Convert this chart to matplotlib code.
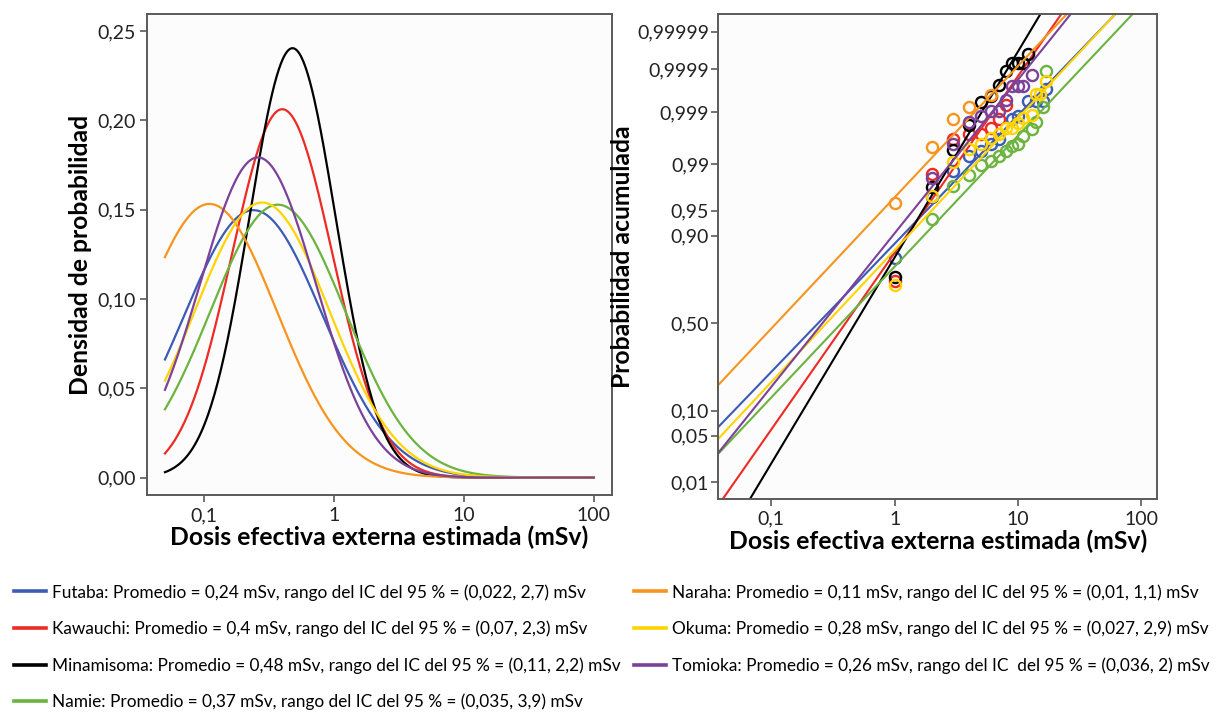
import matplotlib
matplotlib.use('Agg')
import matplotlib.pyplot as plt
import numpy as np
from statistics import NormalDist
from matplotlib.lines import Line2D

# fitted lognormal parameters (from the legend)
towns = ['Futaba', 'Kawauchi', 'Minamisoma', 'Namie', 'Naraha', 'Okuma', 'Tomioka']
colors = ['#3b5bb4', '#ee2a24', '#000000', '#6cb33f', '#f7941d', '#ffd400', '#7c4199']
medians = [0.24, 0.4, 0.48, 0.37, 0.11, 0.28, 0.26]
ci_low = [0.022, 0.07, 0.11, 0.035, 0.01, 0.027, 0.036]
ci_high = [2.7, 2.3, 2.2, 3.9, 1.1, 2.9, 2.0]
legend_labels = [
    'Futaba: Promedio = 0,24 mSv, rango del IC del 95 % = (0,022, 2,7) mSv',
    'Kawauchi: Promedio = 0,4 mSv, rango del IC del 95 % = (0,07, 2,3) mSv',
    'Minamisoma: Promedio = 0,48 mSv, rango del IC del 95 % = (0,11, 2,2) mSv',
    'Namie: Promedio = 0,37 mSv, rango del IC del 95 % = (0,035, 3,9) mSv',
    'Naraha: Promedio = 0,11 mSv, rango del IC del 95 % = (0,01, 1,1) mSv',
    'Okuma: Promedio = 0,28 mSv, rango del IC del 95 % = (0,027, 2,9) mSv',
    'Tomioka: Promedio = 0,26 mSv, rango del IC  del 95 % = (0,036, 2) mSv',
]

futaba_dose = [1, 2, 3, 4, 5, 6, 7, 9, 10, 12, 14, 16, 17]
futaba_prob = [0.8315, 0.9678, 0.9868, 0.9927, 0.9941, 0.9956, 0.9964, 0.9986, 0.99878,
               0.99942, 0.99942, 0.99942, 0.99970]
kawauchi_dose = [1, 2, 3, 4, 5, 6, 7, 8]
kawauchi_prob = [0.7324, 0.9857, 0.9964, 0.9972, 0.9972, 0.9979, 0.9986, 0.99929]
minamisoma_dose = [1, 2, 3, 4, 5, 6, 7, 8, 9, 10, 11, 12]
minamisoma_prob = [0.7517, 0.9767, 0.9943, 0.9981, 0.99940, 0.99955, 0.99976, 0.99989,
                   0.99993, 0.99993, 0.99993, 0.99996]
namie_dose = [2, 3, 4, 5, 6, 7, 8, 9, 10, 11, 13, 14, 16, 17]
namie_prob = [0.9370, 0.9778, 0.9850, 0.9896, 0.9911, 0.9929, 0.9940, 0.9953, 0.9956,
              0.9969, 0.9978, 0.9984, 0.99921, 0.99989]
naraha_dose = [1, 2, 3, 4, 6]
naraha_prob = [0.9611, 0.9951, 0.9986, 0.99921, 0.99957]
okuma_dose = [1, 2, 3, 4, 5, 6, 7, 8, 9, 10, 11, 13, 14, 15, 17]
okuma_prob = [0.7123, 0.9686, 0.9909, 0.9945, 0.9956, 0.9966, 0.9972, 0.9979, 0.9979,
              0.9983, 0.99865, 0.99886, 0.99960, 0.99960, 0.99980]
tomioka_dose = [2, 3, 4, 5, 6, 7, 8, 9, 10, 11, 13]
tomioka_prob = [0.9830, 0.9957, 0.9984, 0.99878, 0.99906, 0.99906, 0.99946, 0.99974,
                0.99974, 0.99974, 0.99986]

obs_dose = [futaba_dose, kawauchi_dose, minamisoma_dose, namie_dose, naraha_dose, okuma_dose, tomioka_dose]
obs_prob = [futaba_prob, kawauchi_prob, minamisoma_prob, namie_prob, naraha_prob, okuma_prob, tomioka_prob]

prob_ticks = [0.01, 0.05, 0.10, 0.50, 0.90, 0.95, 0.99, 0.999, 0.9999, 0.99999]
prob_labels = ['0,01', '0,05', '0,10', '0,50', '0,90', '0,95', '0,99', '0,999', '0,9999', '0,99999']
dens_ticks = [0.0, 0.05, 0.10, 0.15, 0.20, 0.25]
dens_labels = ['0,00', '0,05', '0,10', '0,15', '0,20', '0,25']
dose_ticks = [0.1, 1, 10, 100]
dose_labels = ['0,1', '1', '10', '100']

plt.rcParams['font.family'] = ['Lato', 'DejaVu Sans']
nd = NormalDist()
frame_col = '#5a5a5a'

fig = plt.figure(figsize=(12.21, 7.13), dpi=100)
ax1 = fig.add_axes([0.1207, 0.3052, 0.3802, 0.6748])
ax2 = fig.add_axes([0.5882, 0.3001, 0.3597, 0.6799])

for ax in (ax1, ax2):
    ax.set_facecolor('#fcfcfc')
    for s in ax.spines.values():
        s.set_color(frame_col)
        s.set_linewidth(1.4)
    ax.tick_params(direction='out', length=5, width=1.2, color=frame_col,
                   labelsize=14, labelcolor='#222222')
    ax.set_xscale('log')
    ax.set_xticks(dose_ticks)
    ax.set_xticklabels(dose_labels)
    ax.minorticks_off()
    ax.set_xlabel('Dosis efectiva externa estimada (mSv)', fontsize=17.8, fontweight='bold', labelpad=1)

# left: fitted densities
x = np.logspace(np.log10(0.05), 2, 400)
for i in range(len(towns)):
    mu = np.log10(medians[i])
    sig = np.log10(ci_high[i] / ci_low[i]) / (2 * 1.96)
    dens = 0.2 * np.exp(-0.5 * ((np.log10(x) - mu) / sig) ** 2) / (sig * np.sqrt(2 * np.pi))
    ax1.plot(x, dens, color=colors[i], lw=1.6)
ax1.set_xlim(0.0366, 137.4)
ax1.set_ylim(-0.00997, 0.2594)
ax1.set_yticks(dens_ticks)
ax1.set_yticklabels(dens_labels)
ax1.set_ylabel('Densidad de probabilidad', fontsize=17.8, fontweight='bold', labelpad=4)

# right: probability plot
xl = np.logspace(-1.6, 2.3, 50)
for i in range(len(towns)):
    mu = np.log10(medians[i])
    sig = np.log10(ci_high[i] / ci_low[i]) / (2 * 1.96)
    ax2.plot(xl, (np.log10(xl) - mu) / sig, color=colors[i], lw=1.5)
    zs = [nd.inv_cdf(p) for p in obs_prob[i]]
    ax2.plot(obs_dose[i], zs, 'o', mfc='none', mec=colors[i], mew=1.7, ms=8)
ax2.set_xlim(0.0371, 135.2)
ax2.set_ylim(-2.574, 4.52)
ax2.set_yticks([nd.inv_cdf(p) for p in prob_ticks])
ax2.set_yticklabels(prob_labels)
ax2.tick_params(axis='y', pad=1.5)
ax2.set_ylabel('Probabilidad acumulada', fontsize=17.8, fontweight='bold', labelpad=2)

# legend in two columns
handles = [Line2D([], [], color=c, lw=2.6) for c in colors]
leg_font = {'family': ['Lato', 'DejaVu Sans'], 'size': 12.4}
for cols, xa in (([0, 1, 2, 3], 0.0115), ([4, 5, 6], 0.519)):
    fig.legend([handles[k] for k in cols], [legend_labels[k] for k in cols],
               loc='upper left', bbox_to_anchor=(xa, 0.181), frameon=False,
               prop=leg_font, handlelength=1.86, handletextpad=0.35,
               labelspacing=1.16, borderpad=0, borderaxespad=0)

fig.savefig('out.png', dpi=100, facecolor='white')
